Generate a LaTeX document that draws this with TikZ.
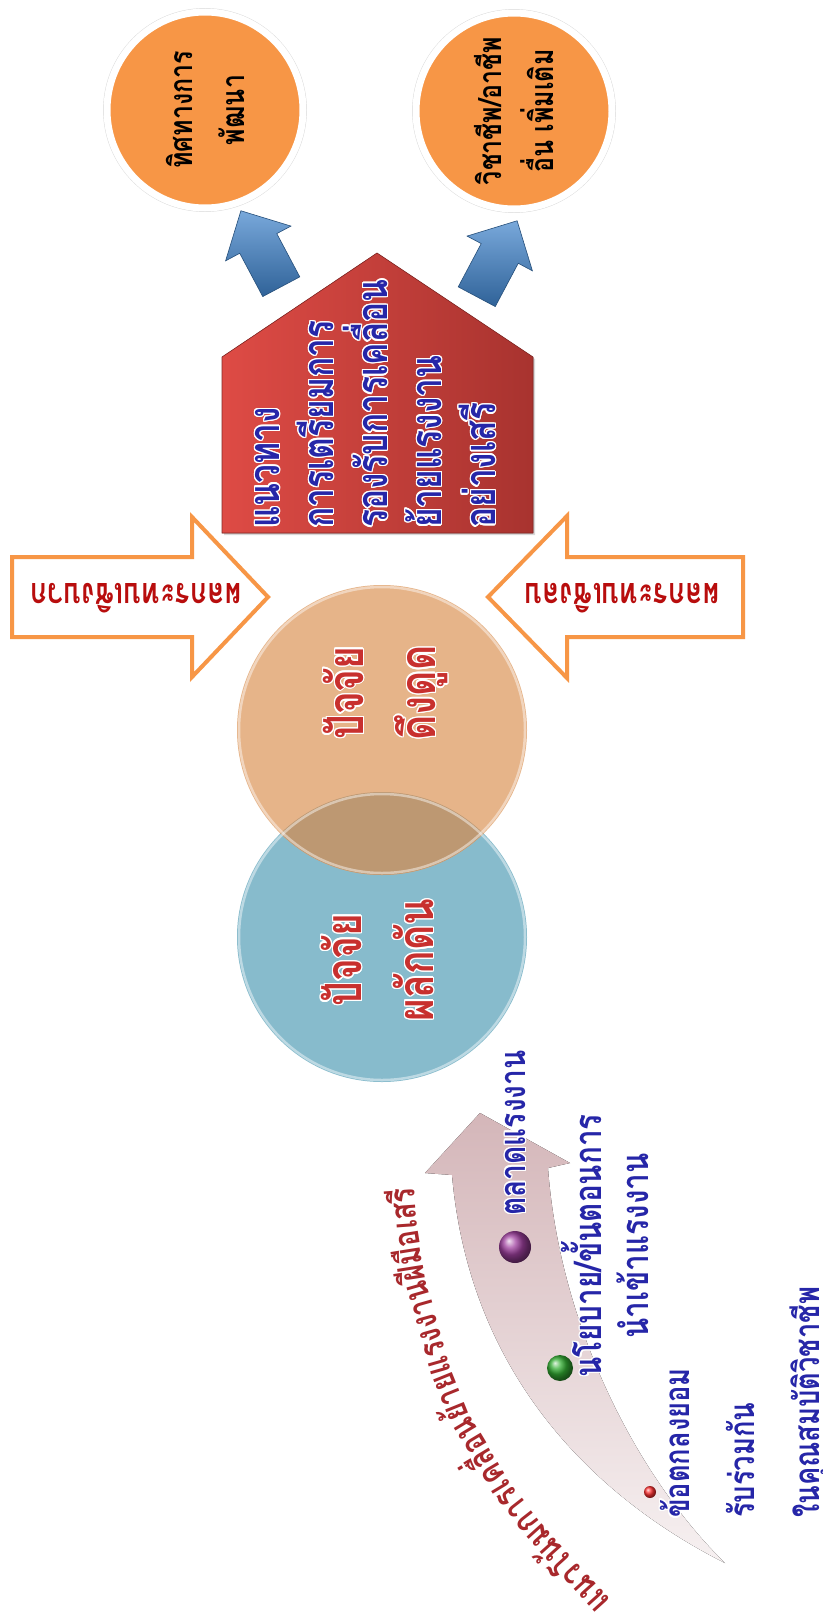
\documentclass[tikz,border=0pt]{standalone}
\usepackage{fontspec}
\usepackage{xcolor}
\usepackage[copies]{contour}
\usetikzlibrary{arrows.meta, positioning, shapes.arrows, shadows}
\newfontfamily\thaifont[Script=Thai, FakeStretch=0.78]{Loma}
\contourlength{1.3pt}
\contournumber{16}
\definecolor{goalorange}{HTML}{F79646}
\definecolor{roofred}{HTML}{DE4B45}
\definecolor{rooflow}{HTML}{A8332F}
\definecolor{inkblue}{HTML}{2626A8}
\definecolor{inkred}{HTML}{C8302E}
\definecolor{effectred}{HTML}{B80D0D}
\definecolor{pullfill}{HTML}{E6B489}
\definecolor{pushfill}{HTML}{87BBCC}
\definecolor{bothfill}{HTML}{BD9872}
\definecolor{liftblue}{HTML}{3F83CB}
\definecolor{trendpink}{HTML}{D4B6B9}
\definecolor{trendred}{HTML}{A8282C}
\def\venrad{145}
\def\wt#1{\contour{white}{#1}}

\begin{document}
\begin{tikzpicture}[x=1pt, y=-1pt]
    \tikzstyle{goal}=[circle, fill=goalorange, draw=white, line width=7pt, minimum size=196pt, inner sep=0pt, rotate=90, align=center, font=\thaifont\bfseries\fontsize{32}{52}\selectfont, drop shadow={opacity=0.3, shadow scale=1.04, shadow xshift=0pt, shadow yshift=0pt}]
    \tikzstyle{lift}=[single arrow, minimum height=86pt, minimum width=74pt, inner sep=9pt, top color=liftblue!70!white, bottom color=liftblue!75!black, draw=liftblue!60!black, line width=0.6pt]
    \tikzstyle{plan text}=[rotate=90, anchor=west, align=left, text=inkblue, inner sep=0pt, font=\thaifont\bfseries\fontsize{43}{54}\selectfont]
    \tikzstyle{effect}=[draw=goalorange, line width=4pt, fill=white, line join=miter]
    \tikzstyle{effect text}=[rotate=180, text=effectred, inner sep=0pt, font=\thaifont\bfseries\fontsize{36}{40}\selectfont]
    \tikzstyle{factor}=[circle, minimum size=2*\venrad pt, inner sep=0pt]
    \tikzstyle{factor text}=[rotate=90, align=center, text=inkred, inner sep=0pt, font=\thaifont\bfseries\fontsize{50}{72}\selectfont]
    \tikzstyle{step text}=[rotate=90, text=inkblue, inner sep=0pt, font=\thaifont\bfseries\fontsize{36}{47}\selectfont]
    \tikzstyle{ball}=[circle, inner sep=0pt]
    \tikzstyle{trend}=[anchor=west, text=trendred, inner sep=0pt, text height=24pt, text depth=9pt, font=\thaifont\bfseries\fontsize{36}{40}\selectfont]

    \useasboundingbox (0,0) rectangle (822,1617);
    \fill[white] (0,0) rectangle (822,1617);

    % Draw the goal circles
    \node[goal] (dev) at (205,110) {ทิศทางการ\\พัฒนา};
    \node[goal] (job) at (514,111) {วิชาชีพ/อาชีพ\\อื่น เพิ่มเติม};

    % Draw the two arrows going up from the house
    \node[lift, rotate=118] (up-1) at (266,258) {};
    \node[lift, rotate=62] (up-2) at (492,268) {};

    % Draw the house with the plan
    \filldraw[left color=roofred, right color=rooflow, draw=rooflow!80!black, line width=0.6pt, drop shadow={opacity=0.3}]
        (222,533) -- (222,357) -- (377,253) -- (533,357) -- (533,533) -- cycle;
    \node[plan text] (plan) at (376,528) {\wt{แนวทาง}\\\wt{การเตรียมการ}\\\wt{รองรับการเคลื่อน}\\\wt{ย้ายแรงงาน}\\\wt{อย่างเสรี}};

    % Draw the effect arrows on both sides
    \filldraw[effect] (12,557) -- (192,557) -- (192,517) -- (268,597) -- (192,677) -- (192,637) -- (12,637) -- cycle;
    \filldraw[effect] (743,557) -- (567,557) -- (567,516) -- (488,597) -- (567,678) -- (567,637) -- (743,637) -- cycle;
    \node[effect text] (gain) at (136,598) {ผลกระทบเชิงบวก};
    \node[effect text] (loss) at (622,598) {ผลกระทบเชิงลบ};

    % Draw the push and pull factors
    \node[factor, fill=pushfill] (push) at (382,937) {};
    \node[factor, fill=pullfill] (pull) at (382,730) {};
    \begin{scope}
        \clip (push.center) circle (\venrad);
        \fill[bothfill] (pull.center) circle (\venrad);
    \end{scope}
    \foreach \name in {push,pull}
        \draw[white, opacity=0.45, line width=2.5pt] (\name.center) circle (\venrad-2);
    \node[factor text] (pull-t) at (386,693) {\wt{ปัจจัย}\\\wt{ดึงดูด}};
    \node[factor text] (push-t) at (378,960) {\wt{ปัจจัย}\\\wt{ผลักดัน}};

    % Draw the rising trend arrow
    \coordinate (tip) at (480,1113);
    \coordinate (hl) at (425,1173);
    \coordinate (hr) at (570,1163);
    \coordinate (sl) at (452,1175);
    \coordinate (sr) at (548,1168);
    \coordinate (tail) at (725,1563);
    \fill[top color=trendpink, bottom color=trendpink!20!white]
        (tip) -- (hr) -- (sr) .. controls (560,1330) and (640,1480) .. (tail)
        .. controls (600,1500) and (470,1380) .. (sl) -- (hl) -- cycle;

    \node[ball, ball color=violet!75, minimum size=32pt] (b-1) at (515,1247) {};
    \node[ball, ball color=green!60!black!80, minimum size=26pt] (b-2) at (560,1368) {};
    \node[ball, ball color=red!80, minimum size=12pt] (b-3) at (650,1492) {};

    \node[step text] (s-1) at (516,1133) {\wt{ตลาดแรงงาน}};
    \node[step text, align=center, font=\thaifont\bfseries\fontsize{38}{47}\selectfont] (s-2) at (606,1246) {\wt{นโยบาย/ขั้นตอนการ}\\\wt{นำเข้าแรงงาน}};
    \node[step text, align=left, anchor=west, font=\thaifont\bfseries\fontsize{35}{65}\selectfont] (s-3) at (745,1518) {\wt{ข้อตกลงยอม}\\\wt{รับร่วมกัน}\\\wt{ในคุณสมบัติวิชาชีพ}};

    % Label along the trend arrow
    \node[trend, rotate=132] (t-1) at (606,1606) {\wt{แนวโน้ม}};
    \node[trend, rotate=128] (t-2) at (t-1.east) {\wt{การ}};
    \node[trend, rotate=121] (t-3) at (t-2.east) {\wt{เคลื่อน}};
    \node[trend, rotate=112] (t-4) at (t-3.east) {\wt{ย้าย}};
    \node[trend, rotate=106] (t-5) at (t-4.east) {\wt{แรงงาน}};
    \node[trend, rotate=99] (t-6) at (t-5.east) {\wt{ฝีมือ}};
    \node[trend, rotate=94] (t-7) at (t-6.east) {\wt{เสรี}};
\end{tikzpicture}
\end{document}
